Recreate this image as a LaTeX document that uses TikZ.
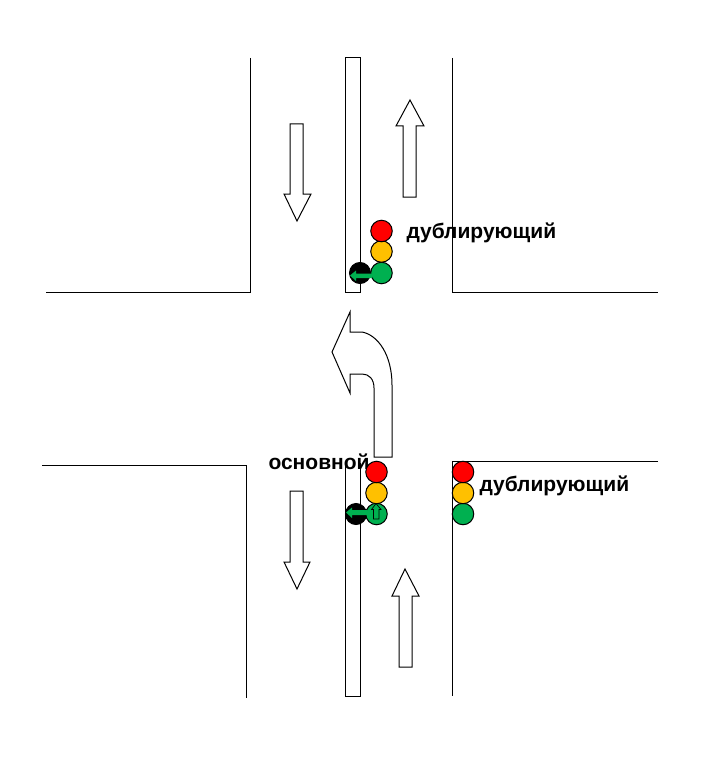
\documentclass[tikz,border=0pt]{standalone}
\usepackage{fontspec}
\setmainfont{Liberation Sans}
\definecolor{lred}{RGB}{255,0,0}
\definecolor{lamber}{RGB}{255,192,0}
\definecolor{lgreen}{RGB}{0,176,80}
\begin{document}
\begin{tikzpicture}[x=1pt,y=-1pt,line width=1pt,
  lamp/.style={circle,draw=black,line width=1pt,minimum size=21.5pt,inner sep=0pt},
  redlamp/.style={lamp,fill=lred},
  amberlamp/.style={lamp,fill=lamber},
  greenlamp/.style={lamp,fill=lgreen},
  blacklamp/.style={lamp,fill=black,minimum size=21pt},
  road/.style={draw=black,line width=1pt},
  bigarrow/.style={draw=black,fill=white,line width=1pt,line join=miter},
  lamparrow/.style={draw=black,fill=lgreen,line width=0.7pt},
  lbl/.style={font=\bfseries\fontsize{21}{23}\selectfont,inner sep=0pt,text=black}]
\useasboundingbox (0,0) rectangle (720,770);
\fill[white] (0,0) rectangle (720,770);
% roads
\draw[road] (250,58) -- (250,292) -- (46,292);
\draw[road] (452,58) -- (452,292) -- (658,292);
\draw[road] (42,465) -- (246,465) -- (246,698);
\draw[road] (658,461) -- (452,461) -- (452,696);
\draw[road] (345,58) rectangle (360,292);
\draw[road] (345,463) -- (345,696) -- (360,696) -- (360,463);
% straight arrows
\draw[bigarrow] (403,197) -- (403,126) -- (396,126) -- (410,100) -- (424,126) -- (416,126) -- (416,197) -- cycle;
\draw[bigarrow] (290,124) -- (290,194) -- (284,194) -- (297,221) -- (311,194) -- (303,194) -- (303,124) -- cycle;
\draw[bigarrow] (290,491) -- (290,562) -- (284,562) -- (297,589) -- (310,562) -- (303,562) -- (303,491) -- cycle;
\draw[bigarrow] (399,667) -- (399,596) -- (392,596) -- (405,569) -- (419,596) -- (412,596) -- (412,667) -- cycle;
% turn arrow
\draw[bigarrow] (332,352) -- (350,312) -- (350,332) -- (362,332)
  .. controls (378,335) and (392,355) .. (392,385)
  -- (392,457) -- (374,457) -- (374,388)
  .. controls (374,379) and (369,374) .. (362,374)
  -- (350,374) -- (350,393) -- cycle;
% labels
\node[lbl,anchor=base west] (dub1) at (406,238) {дублирующий};
\node[lbl,anchor=base west] (osn) at (268,469) {основной};
\node[lbl,anchor=base west] (dub2) at (479,491) {дублирующий};
% upper signal
\node[blacklamp] (b1) at (360,273) {};
\node[greenlamp] (g1) at (381.5,273) {};
\node[amberlamp] (a1) at (381.5,251.5) {};
\node[redlamp] (r1) at (381.5,231) {};
\fill[lgreen] (350,275.5) -- (356,270.5) -- (356,273.5) -- (372,273.5) -- (372,278) -- (356,278) -- (356,281) -- cycle;
% main signal
\node[blacklamp] (b2) at (356,514) {};
\node[greenlamp] (g2) at (376.5,514) {};
\node[amberlamp] (a2) at (376.5,493) {};
\node[redlamp] (r2) at (376.5,472) {};
\fill[lgreen] (346,512.5) -- (352,507.5) -- (352,510) -- (367,510) -- (367,515) -- (352,515) -- (352,518) -- cycle;
\draw[lamparrow] (376,503.5) -- (381,509.5) -- (379,509.5) -- (379,519) -- (373.5,519) -- (373.5,509.5) -- (371.5,509.5) -- cycle;
% duplicate signal
\node[greenlamp] (g3) at (463,514) {};
\node[amberlamp] (a3) at (463,493) {};
\node[redlamp] (r3) at (463,472) {};
\end{tikzpicture}
\end{document}
